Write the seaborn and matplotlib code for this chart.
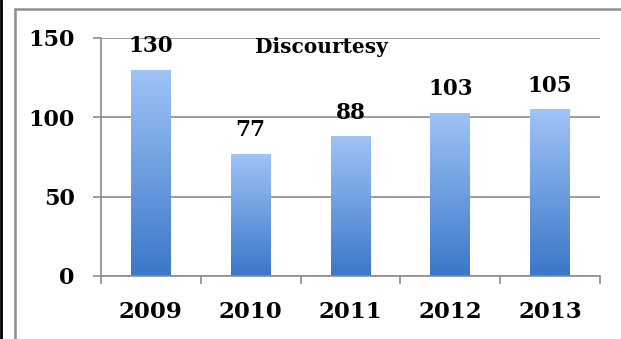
import numpy as np
import pandas as pd
import matplotlib
matplotlib.use("Agg")
import matplotlib.pyplot as plt
import seaborn as sns
from matplotlib.colors import LinearSegmentedColormap
from matplotlib.lines import Line2D

years = ["2009", "2010", "2011", "2012", "2013"]
values = [130, 77, 88, 103, 105]
title = "Discourtesy"
yticks = [0, 50, 100, 150]

sns.set_theme(style="white")
plt.rcParams['font.family'] = ['DejaVu Serif']

df = pd.DataFrame({"year": years, "value": values})

fig = plt.figure(figsize=(6.21, 3.39), dpi=100)
ax = fig.add_axes([101/621, 1-276/339, (600-101)/621, (276-38)/339])

sns.barplot(data=df, x="year", y="value", ax=ax, width=0.4, color="#5b8fd8",
            saturation=1, errorbar=None)

ax.set_ylim(0, 150)
ax.set_xlim(-0.5, len(years)-0.5)
ax.set_yticks(yticks)
ax.set_xlabel("")
ax.set_ylabel("")

# gradient fill
cmap = LinearSegmentedColormap.from_list("g", ["#3b77c8", "#9fc4f7"])
grad = np.linspace(0, 1, 256).reshape(-1, 1)
for p in list(ax.patches):
    x0, y0 = p.get_x(), p.get_y()
    w, h = p.get_width(), p.get_height()
    p.set_facecolor("none")
    p.set_edgecolor("none")
    im = ax.imshow(grad, cmap=cmap, origin="lower", aspect="auto",
                   extent=[x0, x0 + w, y0, y0 + h], zorder=2)
    im.set_clip_path(p)
    ax.annotate(f"{int(round(h))}", (x0 + w/2, y0 + h), xytext=(0, 9),
                textcoords="offset points", ha="center", va="bottom",
                fontsize=15.5, fontweight="bold", color="black", zorder=5,
                annotation_clip=False)
ax.set_xlim(-0.5, len(years)-0.5)
ax.set_ylim(0, 150)

gray = "#8c8c8c"
ax.grid(axis="y", color=gray, linewidth=1.2, zorder=0)
ax.set_axisbelow(True)
for s in ["top", "right"]:
    ax.spines[s].set_visible(False)
for s in ["left", "bottom"]:
    ax.spines[s].set_color(gray)
    ax.spines[s].set_linewidth(1.2)

ax.tick_params(axis="y", length=6, width=1.2, color=gray, pad=13, labelsize=16, left=True)
ax.tick_params(axis="x", which="major", length=0, pad=18, labelsize=16.5)
ax.set_xticks(np.arange(-0.5, len(years)), minor=True)
ax.tick_params(axis="x", which="minor", length=6, width=1.2, color=gray, bottom=True)
for lab in ax.get_xticklabels() + ax.get_yticklabels():
    lab.set_fontweight("bold")
    lab.set_color("black")

fig.text(321/621, 1-47/339, title, ha="center", va="center",
         fontsize=14.5, fontweight="bold", color="black")

# outer frames
fig.add_artist(Line2D([1/621, 1/621], [0, 1], transform=fig.transFigure,
                      color="black", linewidth=2, zorder=10))
fig.add_artist(Line2D([14.5/621, 14.5/621], [0, 1-9/339], transform=fig.transFigure,
                      color="#8f8f8f", linewidth=1.8, zorder=10))
fig.add_artist(Line2D([14.5/621, 1], [1-9/339, 1-9/339], transform=fig.transFigure,
                      color="#8f8f8f", linewidth=1.8, zorder=10))

fig.savefig("out.png", dpi=100)
